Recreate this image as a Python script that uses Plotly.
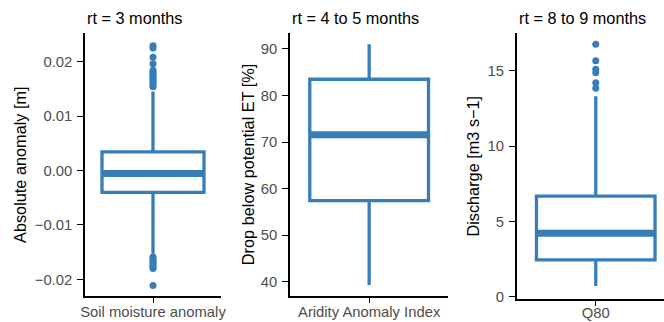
import plotly.graph_objects as go

# Variables and panel labels
categories = ["Soil moisture anomaly", "Aridity Anomaly Index", "Q80"]
panel_titles = ["rt = 3 months", "rt = 4 to 5 months", "rt = 8 to 9 months"]
y_titles = ["Absolute anomaly [m]", "Drop below potential ET [%]", "Discharge [m3 s\u22121]"]

# Box statistics per variable
q1 = [-0.0040, 57.4, 2.44]
median = [-0.00055, 71.6, 4.21]
q3 = [0.00343, 83.5, 6.68]
lower_whisker = [-0.0153, 39.3, 0.71]
upper_whisker = [0.0145, 91.0, 13.3]

# Outlying observations
outliers_soil = [0.0154, 0.0157, 0.0160, 0.0163, 0.0166, 0.0169, 0.0172, 0.0175,
                 0.0178, 0.0181, 0.0184, 0.0196, 0.0208, 0.0225, 0.0229,
                 -0.0159, -0.0162, -0.0165, -0.0168, -0.0171, -0.0174, -0.0177,
                 -0.0180, -0.0211]
outliers_aridity = []
outliers_q80 = [13.83, 14.2, 14.86, 15.09, 15.66, 16.75]
outliers = [outliers_soil, outliers_aridity, outliers_q80]

# Axis settings
y_ranges = [[-0.02305, 0.0252], [36.93, 93.37], [-0.17, 17.48]]
y_ticks = [[-0.02, -0.01, 0.0, 0.01, 0.02], [40, 50, 60, 70, 80, 90], [0, 5, 10, 15]]
y_decimals = [2, 0, 0]
x_ranges = [[0.4, 1.6], [0.4, 1.6], [0.4, 1.518]]

W, H = 664, 322
px_x = [(85, 221), (290, 448.3), (516.7, 664)]
px_y = [(33.3, 296), (33.3, 296), (33.3, 299.3)]
ytitle_x = [19.3, 247.5, 473.3]
xlabel_standoff = [-4, -4, -6]

COLOR = "#377EB8"
BOX_WIDTH = 0.9
POS = 1


def fmt(v, d):
    s = f"{abs(v):.{d}f}"
    return ("\u2212" + s) if v < 0 else s


fig = go.Figure()
layout = dict(
    width=W, height=H,
    margin=dict(l=0, r=0, t=0, b=0),
    paper_bgcolor="white", plot_bgcolor="white",
    showlegend=False,
    font=dict(family="Liberation Sans, Arial, sans-serif"),
    annotations=[],
)

for i in range(3):
    xa = "x" if i == 0 else f"x{i+1}"
    ya = "y" if i == 0 else f"y{i+1}"

    fig.add_trace(go.Box(
        x=[POS], q1=[q1[i]], median=[median[i]], q3=[q3[i]],
        lowerfence=[lower_whisker[i]], upperfence=[upper_whisker[i]],
        width=BOX_WIDTH, whiskerwidth=0, boxpoints=False,
        fillcolor="white", line=dict(color=COLOR, width=3.3),
        xaxis=xa, yaxis=ya, hoverinfo="skip",
    ))
    # thicker median bar
    fig.add_trace(go.Scatter(
        x=[POS - BOX_WIDTH / 2, POS + BOX_WIDTH / 2], y=[median[i], median[i]],
        mode="lines", line=dict(color=COLOR, width=7),
        xaxis=xa, yaxis=ya, hoverinfo="skip",
    ))
    if outliers[i]:
        fig.add_trace(go.Scatter(
            x=[POS] * len(outliers[i]), y=outliers[i], mode="markers",
            marker=dict(color=COLOR, size=7),
            xaxis=xa, yaxis=ya, hoverinfo="skip",
        ))

    x0, x1 = px_x[i]
    y0, y1 = px_y[i]
    axis_common = dict(
        showgrid=False, zeroline=False, showline=True, automargin=False,
        linecolor="black", linewidth=1.5,
        ticks="outside", tickwidth=1.3, tickcolor="black",
        tickfont=dict(size=14.8, color="#4D4D4D"),
    )
    layout["xaxis" if i == 0 else f"xaxis{i+1}"] = dict(
        axis_common, domain=[x0 / W, x1 / W], range=x_ranges[i], ticklen=5,
        tickvals=[POS], ticktext=[categories[i]], anchor=ya,
        ticklabelstandoff=xlabel_standoff[i],
    )
    layout["yaxis" if i == 0 else f"yaxis{i+1}"] = dict(
        axis_common, domain=[1 - y1 / H, 1 - y0 / H], range=y_ranges[i], ticklen=6,
        tickvals=y_ticks[i], ticktext=[fmt(v, y_decimals[i]) for v in y_ticks[i]],
        anchor=xa, ticklabelstandoff=2,
    )
    layout["annotations"].append(dict(
        text=panel_titles[i], x=x0 / W, y=1 - 18 / H, xref="paper", yref="paper",
        xanchor="left", yanchor="middle", showarrow=False,
        font=dict(size=16.3, color="black"),
    ))
    layout["annotations"].append(dict(
        text=y_titles[i], x=ytitle_x[i] / W, y=1 - (y0 + y1) / 2 / H,
        xref="paper", yref="paper", xanchor="center", yanchor="middle",
        textangle=-90, showarrow=False, font=dict(size=16.3, color="black"),
    ))

fig.update_layout(**layout)
fig.write_html("out.html")
